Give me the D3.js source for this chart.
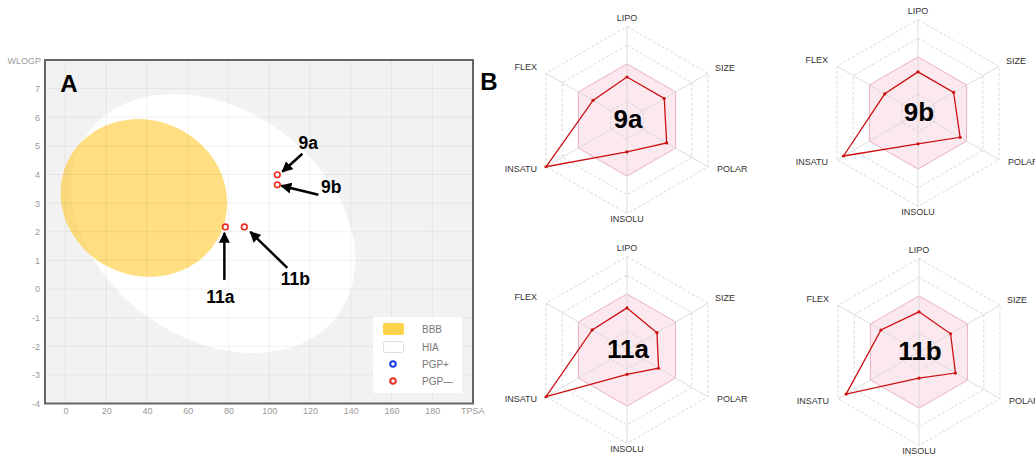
<!DOCTYPE html>
<html><head><meta charset="utf-8">
<script src="https://cdn.jsdelivr.net/npm/d3@7"></script>
<style>
html,body{margin:0;padding:0;background:#fff;}
svg{display:block;font-family:"Liberation Sans",Arial,Helvetica,sans-serif;}
</style></head>
<body>
<svg id="chart" width="1035" height="454"></svg>
<script>
// ---------- DATA ----------
const tpsaTicks = [0,20,40,60,80,100,120,140,160,180];
const wlogpTicks = [-4,-3,-2,-1,0,1,2,3,4,5,6,7];
const compounds = ["9a","9b","11a","11b"];
const tpsaValues = [104.0,104.0,78.5,87.8];
const wlogpValues = [3.99,3.64,2.17,2.17];
// BBB (yolk) and HIA (white) ellipses, in TPSA / WLOGP units
const bbbEllipse = [38.5, 3.18, 41.5, 2.71, 25];
const hiaEllipse = [72.6, 2.29, 75.9, 3.99, 35.9];
const legendLabels = ["BBB","HIA","PGP+","PGP\u2014"];
const radarAxes = ["LIPO","SIZE","POLAR","INSOLU","INSATU","FLEX"];
const radar9a  = [0.46,0.46,0.49,0.34,1.00,0.42];
const radar9b  = [0.44,0.44,0.52,0.33,0.92,0.41];
const radar11a = [0.45,0.37,0.39,0.26,1.00,0.43];
const radar11b = [0.43,0.39,0.45,0.28,0.90,0.47];
const radarRings = [0.2,0.8,1.0];
const optimalRing = 0.6;

// ---------- PANEL A ----------
const svg = d3.select("#chart");
const x = d3.scaleLinear().domain([-10,200]).range([45,473]);
const y = d3.scaleLinear().domain([-4,8]).range([403.5,60]);

svg.append("rect").attr("x",x(-10)).attr("y",y(8))
  .attr("width",x(200)-x(-10)).attr("height",y(-4)-y(8)).attr("fill","#f2f2f2");

const defs = svg.append("defs");
defs.append("clipPath").attr("id","plotclip").append("rect")
  .attr("x",x(-10)).attr("y",y(8)).attr("width",x(200)-x(-10)).attr("height",y(-4)-y(8));

function drawEllipse(e, fill, op){
  const [cx,cy,a,b,ang] = e;
  svg.append("ellipse")
    .attr("clip-path","url(#plotclip)")
    .attr("cx",x(cx)).attr("cy",y(cy))
    .attr("rx",x(cx+a)-x(cx)).attr("ry",y(cy)-y(cy+b))
    .attr("transform",`rotate(${ang},${x(cx)},${y(cy)})`)
    .attr("fill",fill).attr("fill-opacity",op);
}
drawEllipse(hiaEllipse,"#ffffff",1);
drawEllipse(bbbEllipse,"#ffcc33",0.62);

// grid
const grid = svg.append("g");
grid.selectAll("line.vx").data(tpsaTicks).join("line")
  .attr("x1",d=>x(d)).attr("x2",d=>x(d)).attr("y1",y(8)).attr("y2",y(-4))
  .attr("stroke","#000").attr("stroke-opacity",0.055).attr("stroke-width",1);
grid.selectAll("line.hy").data(wlogpTicks).join("line")
  .attr("y1",d=>y(d)).attr("y2",d=>y(d)).attr("x1",x(-10)).attr("x2",x(200))
  .attr("stroke","#000").attr("stroke-opacity",0.055).attr("stroke-width",1);

// axes
const xAxis = svg.append("g").attr("transform",`translate(0,${y(-4)})`)
  .call(d3.axisBottom(x).tickValues(tpsaTicks).tickFormat(d=>String(d)).tickSize(0).tickPadding(4));
const yAxis = svg.append("g").attr("transform",`translate(${x(-10)},0)`)
  .call(d3.axisLeft(y).tickValues(wlogpTicks).tickFormat(d=>String(d)).tickSize(0).tickPadding(5));
[xAxis,yAxis].forEach(g=>{
  g.select(".domain").remove();
  g.selectAll("text").attr("fill","#999").attr("font-size",9)
    .attr("font-family","'Liberation Sans',Arial,sans-serif");
});
svg.append("rect").attr("x",x(-10)).attr("y",y(8))
  .attr("width",x(200)-x(-10)).attr("height",y(-4)-y(8))
  .attr("fill","none").attr("stroke","#666").attr("stroke-width",2);
svg.append("text").attr("x",41).attr("y",64).attr("text-anchor","end")
  .attr("font-size",9).attr("fill","#999").text("WLOGP");
svg.append("text").attr("x",461).attr("y",414)
  .attr("font-size",9).attr("fill","#999").text("TPSA");

// arrow marker
defs.append("marker").attr("id","arrow").attr("viewBox","0 0 10 10")
  .attr("refX",9).attr("refY",5).attr("markerWidth",4.4).attr("markerHeight",4.4)
  .attr("orient","auto").attr("markerUnits","strokeWidth")
  .append("path").attr("d","M0,0 L10,5 L0,10 Z").attr("fill","#000");

// annotations: [tail dx, tail dy, tip dx, tip dy, label dx, label dy] relative to point
const annot = [[25,-21,5,-3,31,-31.5],[41,10,4,1,54,2.5],[-1,53,-1,6,-5,70],[43,41,6,5,51,52]];
compounds.forEach((c,i)=>{
  const px = x(tpsaValues[i]), py = y(wlogpValues[i]);
  const a = annot[i];
  svg.append("line").attr("x1",px+a[0]).attr("y1",py+a[1]).attr("x2",px+a[2]).attr("y2",py+a[3])
    .attr("stroke","#000").attr("stroke-width",2.5).attr("marker-end","url(#arrow)");
  svg.append("text").attr("x",px+a[4]).attr("y",py+a[5]).attr("text-anchor","middle")
    .attr("dominant-baseline","central")
    .attr("font-size",17.5).attr("font-weight","bold").attr("fill","#000").text(c);
});
svg.selectAll("circle.pt").data(compounds).join("circle").attr("class","pt")
  .attr("cx",(d,i)=>x(tpsaValues[i])).attr("cy",(d,i)=>y(wlogpValues[i])).attr("r",2.8)
  .attr("fill","#fff").attr("stroke","#ee2a1e").attr("stroke-width",1.6);

// legend
const lg = svg.append("g");
lg.append("rect").attr("x",373).attr("y",317).attr("width",89).attr("height",76).attr("fill","#fff");
const ly = [329,347,364,381];
lg.append("rect").attr("x",383).attr("y",323).attr("width",21).attr("height",12).attr("rx",2)
  .attr("fill","#fdd142").attr("fill-opacity",0.95);
lg.append("rect").attr("x",383.5).attr("y",341.5).attr("width",20).attr("height",11).attr("rx",2)
  .attr("fill","#fff").attr("stroke","#ddd");
lg.append("circle").attr("cx",393).attr("cy",ly[2]).attr("r",2.8).attr("fill","#fff")
  .attr("stroke","#1f3fe6").attr("stroke-width",2);
lg.append("circle").attr("cx",393).attr("cy",ly[3]).attr("r",2.8).attr("fill","#fff")
  .attr("stroke","#ee3322").attr("stroke-width",2);
lg.selectAll("text").data(legendLabels).join("text")
  .attr("x",422).attr("y",(d,i)=>ly[i]).attr("dominant-baseline","central")
  .attr("font-size",10).attr("fill","#777").text(d=>d);

// panel letters
svg.append("text").attr("x",69).attr("y",92).attr("text-anchor","middle")
  .attr("font-size",24).attr("font-weight","bold").text("A");
svg.append("text").attr("x",489).attr("y",90).attr("text-anchor","middle")
  .attr("font-size",24).attr("font-weight","bold").text("B");

// ---------- PANEL B: radars ----------
const radars = [
  {name:"9a", vals:radar9a, cx:627, cy:120},
  {name:"9b", vals:radar9b, cx:918, cy:113},
  {name:"11a", vals:radar11a, cx:627, cy:350},
  {name:"11b", vals:radar11b, cx:919, cy:352}
];
const R = 93.5;
const rScale = d3.scaleLinear().domain([0,1]).range([0,R]);
const ang = d3.scaleLinear().domain([0,radarAxes.length]).range([0,2*Math.PI]);
function pt(i,v){ const a = ang(i); return [rScale(v)*Math.sin(a), -rScale(v)*Math.cos(a)]; }
const hexPath = v => d3.line()(radarAxes.map((_,i)=>pt(i,v))) + "Z";
const labelOff = [[0,-8.5,"middle"],[7,-5.5,"start"],[9,2,"start"],[0,5.5,"middle"],[-9,2,"end"],[-9,-6,"end"]];

radars.forEach(r=>{
  const g = svg.append("g").attr("transform",`translate(${r.cx},${r.cy})`);
  g.append("path").attr("d",hexPath(optimalRing)).attr("fill","#f7c6d4").attr("fill-opacity",0.38)
    .attr("stroke","#eab0c0").attr("stroke-width",1);
  radarRings.forEach(v=>{
    g.append("path").attr("d",hexPath(v)).attr("fill","none")
      .attr("stroke","#cfcfcf").attr("stroke-width",0.8).attr("stroke-dasharray","3,2");
  });
  radarAxes.forEach((ax,i)=>{
    const p = pt(i,1);
    g.append("line").attr("x1",0).attr("y1",0).attr("x2",p[0]).attr("y2",p[1])
      .attr("stroke","#d8d8d8").attr("stroke-width",0.9);
    const o = labelOff[i];
    g.append("text").attr("x",p[0]+o[0]).attr("y",p[1]+o[1]).attr("text-anchor",o[2])
      .attr("dominant-baseline","central").attr("font-size",9).attr("fill","#333").text(ax);
  });
  g.append("text").attr("x",1).attr("y",-1).attr("text-anchor","middle").attr("dominant-baseline","central")
    .attr("font-size",26).attr("font-weight","bold").attr("fill","#000").text(r.name);
  g.append("path").attr("d",d3.line()(r.vals.map((v,i)=>pt(i,v)))+"Z")
    .attr("fill","none").attr("stroke","#cc1111").attr("stroke-width",1.3);
  g.selectAll("circle").data(r.vals).join("circle")
    .attr("cx",(v,i)=>pt(i,v)[0]).attr("cy",(v,i)=>pt(i,v)[1]).attr("r",1.6).attr("fill","#cc1111");
});
</script>
</body></html>
